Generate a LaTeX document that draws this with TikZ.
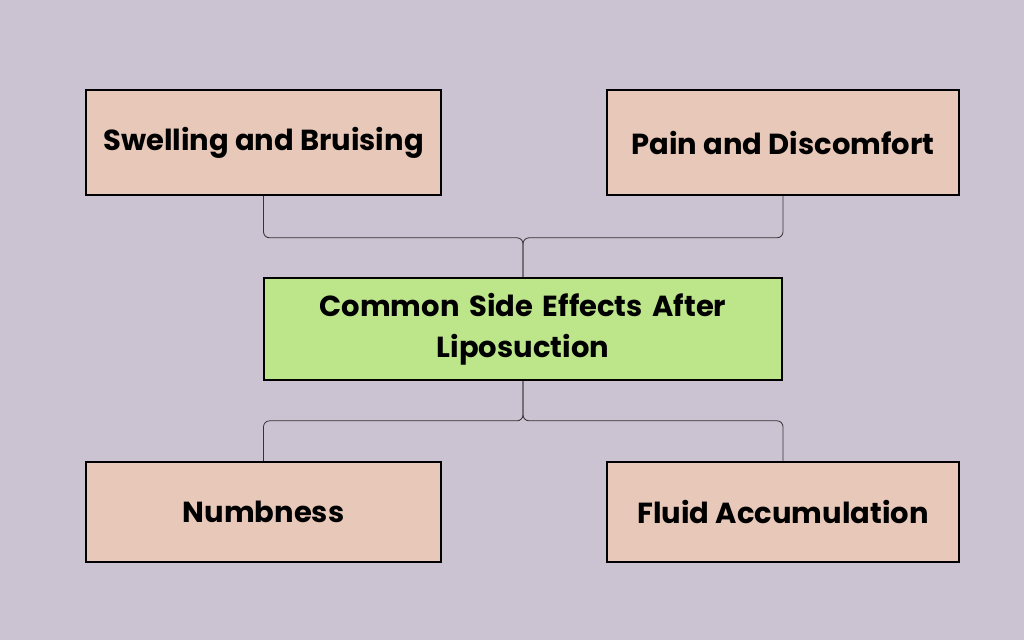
\documentclass[tikz,border=0pt]{standalone}
\usepackage{fontspec}
\setmainfont{Poppins}
\definecolor{bg}{HTML}{CBC3D1}
\definecolor{peach}{HTML}{E8C8B8}
\definecolor{lime}{HTML}{BDE58A}
\begin{document}
\begin{tikzpicture}[x=1pt,y=-1pt,
  box/.style={draw=black,line width=1.6pt,fill=peach,font=\fontsize{29}{41}\selectfont\bfseries,align=center,inner sep=0pt},
  conn/.style={draw=black!80,line width=0.8pt,rounded corners=6pt}]
\fill[bg] (0,0) rectangle (1024,640);
\useasboundingbox (0,0) rectangle (1024,640);
\node[box,minimum width=355pt,minimum height=105pt] (sw) at (263.5,142.5) {Swelling and Bruising};
\node[box,minimum width=352pt,minimum height=105pt] (pa) at (783,142.5) {Pain and Discomfort};
\node[box,fill=lime,minimum width=518pt,minimum height=102pt,text width=480pt] (c) at (523,329) {Common Side Effects After\\Liposuction};
\node[box,minimum width=355pt,minimum height=100pt] (nu) at (263.5,512) {Numbness};
\node[box,minimum width=352pt,minimum height=100pt] (fl) at (783,512) {Fluid Accumulation};
\draw[conn] (sw.south) -- ++(0,42) -| (c.north);
\draw[conn] (pa.south) -- ++(0,42) -| (c.north);
\draw[conn] (c.south) -- ++(0,40) -| (nu.north);
\draw[conn] (c.south) -- ++(0,40) -| (fl.north);
\end{tikzpicture}
\end{document}
